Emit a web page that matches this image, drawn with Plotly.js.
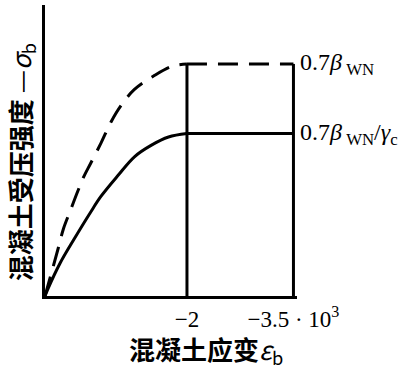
<!DOCTYPE html>
<html><head><meta charset="utf-8">
<script src="https://cdn.plot.ly/plotly-3.0.1.min.js"></script>
<style>html,body{margin:0;padding:0;background:#fff}#c{width:420px;height:371px}</style>
</head><body><div id="c"></div>
<script>
// strain magnitude (x 10^-3) and relative stress (1 = 0.7 beta_WN)
const dashedStrain = [0, 0.10, 0.19, 0.26, 0.36, 0.46, 0.54, 0.64, 0.79, 0.93, 1.07, 1.26, 1.54, 1.79, 2.0];
const dashedStress = [0, 0.11, 0.21, 0.29, 0.37, 0.45, 0.51, 0.57, 0.66, 0.75, 0.82, 0.89, 0.95, 0.99, 1.0];
const solidStrain = [0, 0.04, 0.21, 0.40, 0.64, 0.79, 1.03, 1.26, 1.50, 1.74, 2.0];
const solidStress = [0, 0.03, 0.14, 0.24, 0.36, 0.43, 0.52, 0.60, 0.65, 0.685, 0.70];
const plateauStrain = [2.0, 3.5];
const dashedPlateau = [1.0, 1.0];
const solidPlateau = [0.70, 0.70];
const limitStrains = [2, 3.5];
const limitTop = 1.0;
const tickVals = [2, 3.5];
const tickText = ["\u22122", "\u22123.5 \u00b7 10<sup>3</sup>"];
const labelDashed = "0.7<i>\u03b2</i><sub> WN</sub>";
const labelSolid = "0.7<i>\u03b2</i><sub> WN</sub>/<i>\u03b3</i><sub>c</sub>";
const xTitle = "<b>混凝土应变</b><i>\u03b5</i><sub>b</sub>";
const yTitle = "<b>混凝土受压强度</b> \u2014<i>\u03c3</i><sub>b</sub>";

const dashStyle = {color: '#000', width: 3, dash: '20px,11px'};
const solidStyle = {color: '#000', width: 3};
const traces = [
  {x: dashedStrain, y: dashedStress, mode: 'lines', line: Object.assign({shape: 'spline', smoothing: 1}, dashStyle), hoverinfo: 'none'},
  {x: plateauStrain, y: dashedPlateau, mode: 'lines', line: dashStyle, hoverinfo: 'none'},
  {x: solidStrain, y: solidStress, mode: 'lines', line: Object.assign({shape: 'spline', smoothing: 1}, solidStyle), hoverinfo: 'none'},
  {x: plateauStrain, y: solidPlateau, mode: 'lines', line: solidStyle, hoverinfo: 'none'},
];
limitStrains.forEach(s => traces.push({x: [s, s], y: [0, limitTop], mode: 'lines', line: solidStyle, hoverinfo: 'none'}));

const serif = 'Liberation Serif, Times New Roman, serif';
const cjk = 'Noto Sans CJK SC, serif';
const layout = {
  width: 420, height: 371,
  margin: {l: 45, r: 123, t: 5, b: 75},
  showlegend: false,
  paper_bgcolor: '#fff', plot_bgcolor: '#fff',
  xaxis: {range: [0, 3.55], showgrid: false, zeroline: false, showline: true, linecolor: '#000', linewidth: 3,
          tickvals: tickVals, ticktext: tickText, ticks: '', ticklabelstandoff: 0, tickfont: {family: serif, size: 23, color: '#000'}},
  yaxis: {range: [0, 1.254], showgrid: false, zeroline: false, showline: true, linecolor: '#000', linewidth: 3,
          showticklabels: false, ticks: ''},
  annotations: [
    {xref: 'x', yref: 'y', x: 3.55, y: 1.0, text: labelDashed, showarrow: false, xanchor: 'left', yanchor: 'middle', xshift: 1,
     font: {family: serif, size: 24, color: '#000'}},
    {xref: 'x', yref: 'y', x: 3.55, y: 0.70, text: labelSolid, showarrow: false, xanchor: 'left', yanchor: 'middle', xshift: 1,
     font: {family: serif, size: 24, color: '#000'}},
    {xref: 'paper', yref: 'paper', x: 0.64, y: 0, yshift: -54, text: xTitle, showarrow: false, xanchor: 'center', yanchor: 'middle',
     font: {family: cjk, size: 26, color: '#000'}},
    {xref: 'paper', yref: 'paper', x: 0, xshift: -24, y: 0.46, text: yTitle, showarrow: false, textangle: -90, xanchor: 'center', yanchor: 'middle',
     font: {family: cjk, size: 26, color: '#000'}}
  ]
};
Plotly.newPlot('c', traces, layout, {staticPlot: true, displayModeBar: false});
</script></body></html>
